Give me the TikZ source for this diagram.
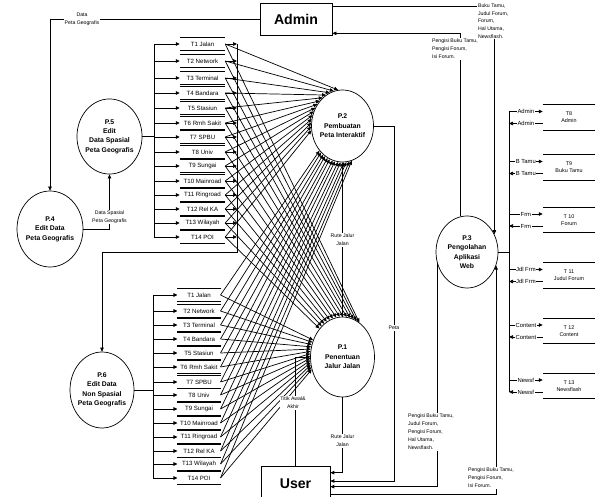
\documentclass[tikz,border=0pt]{standalone}
\usepackage{fontspec}
\setmainfont{Liberation Sans}
\usetikzlibrary{shapes.geometric,arrows.meta,calc}

\begin{document}
\begin{tikzpicture}[x=0.85pt,y=-0.85pt,line width=0.6pt,
    every node/.style={font=\fontsize{4.4}{6.8}\selectfont, inner sep=1pt},
    proc/.style={ellipse, draw, align=center, inner xsep=-4pt, inner ysep=0pt, font=\bfseries\fontsize{5.8}{8}\selectfont},
    ent/.style={draw, minimum width=61.2pt, minimum height=27.2pt, font=\bfseries\fontsize{12}{14}\selectfont},
    store/.style={minimum height=11pt, inner sep=0pt, font=\fontsize{5.2}{6}\selectfont},
    tabel/.style={minimum width=44pt, minimum height=21pt, inner sep=0pt, align=center, font=\fontsize{4.6}{6}\selectfont},
    lbl/.style={fill=white, align=center, inner sep=0.6pt},
    rowlbl/.style={fill=white, inner sep=0.4pt, font=\fontsize{5}{6}\selectfont},
    flow/.style={-{Triangle[length=3.4pt,width=3pt]}}]
    \useasboundingbox (0,0) rectangle (595,497);

    \node (admin)[ent] at (296,19) {Admin};
    \node (user)[ent, minimum width=58.6pt, minimum height=30.6pt] at (295.5,484) {User};

    \node (P1)[proc, minimum width=54.4pt, minimum height=68pt]   at (342.5,357) {P.1\\Penentuan\\Jalur Jalan};
    \node (P2)[proc, minimum width=52.7pt, minimum height=61.2pt] at (342.5,126) {P.2\\Pembuatan\\Peta Interaktif};
    \node (P3)[proc, minimum width=52.7pt, minimum height=61.2pt] at (467,252)   {P.3\\Pengolahan\\Aplikasi\\Web};
    \node (P4)[proc, minimum width=56.1pt, minimum height=64.6pt] at (50,229)    {P.4\\Edit Data\\Peta Geografis};
    \node (P5)[proc, minimum width=55.3pt, minimum height=63.8pt] at (109.5,136.5) {P.5\\Edit\\Data Spasial\\Peta Geografis};
    \node (P6)[proc, minimum width=54.4pt, minimum height=64.6pt] at (102,390)   {P.6\\Edit Data\\Non Spasial\\Peta Geografis};

    \coordinate (lbus) at (154,136.5);
    \coordinate (sbus) at (237,252);
    \coordinate (nbus) at (153,390);
    \coordinate (wbus) at (509,252);

    \foreach \i/\nm/\ya/\yb in
      {1/Jalan/44/295, 2/Network/61/311, 3/Terminal/78/325, 4/Bandara/93/339,
       5/Stasiun/108/353, 6/Rmh Sakit/123/367, 7/SPBU/137/382, 8/Univ/152/395,
       9/Sungai/166/409, 10/Mainroad/181/423, 11/Ringroad/195/437, 12/Rel KA/209/451,
       13/Wilayah/223/464, 14/POI/237/478}
    {
      \node (S\i)[store, minimum width=38pt] at (202.5,\ya) {T\i\ \nm};
      \node (N\i)[store, minimum width=36pt] at (199,\yb) {T\i\ \nm};
      \draw (S\i.north west) -- (S\i.north east) (S\i.south west) -- (S\i.south east);
      \draw (N\i.north west) -- (N\i.north east) (N\i.south west) -- (N\i.south east);
      \draw[flow] (lbus |- S\i) -- (S\i.west);
      \draw[flow] (nbus |- N\i) -- (N\i.west);
      \draw[flow] (S\i.east) -- (sbus |- S\i);
    }

    \draw (lbus |- S1) -- (lbus |- S14);
    \draw (nbus |- N1) -- (nbus |- N14);
    \draw (P5.east) -- (lbus);
    \draw (P6.east) -- (nbus);
    \draw[flow] (sbus |- S1) -- (sbus) -| (P6.north);

    \foreach \i in {1,...,14} {
      \pgfmathtruncatemacro\aUp{97+(\i-1)*7}
      \pgfmathtruncatemacro\aUq{64+(\i-1)*5}
      \pgfmathtruncatemacro\aLp{227+(\i-1)*4.5}
      \pgfmathtruncatemacro\aLq{150+(\i-1)*4}
      \draw[flow] (S\i.east) -- (P2.\aUp);
      \draw[flow] (S\i.east) -- (P1.\aUq);
      \draw[flow] (N\i.east) -- (P2.\aLp);
      \draw[flow] (N\i.east) -- (P1.\aLq);
    }

    \foreach \n/\y/\nama/\row in
      {8/117.5/{T8\\Admin}/Admin, 9/167.5/{T9\\Buku Tamu}/B Tamu,
       10/220/{T 10\\Forum}/Frm, 11/275.5/{T 11\\Judul Forum}/Jdl Frm,
       12/331/{T 12\\Content}/Content, 13/386/{T 13\\Newsflash}/Newsf}
    {
      \node (T\n)[tabel] at (569,\y) {\nama};
      \draw (T\n.north west) -- (T\n.north east) (T\n.south west) -- (T\n.south east);
      \coordinate (i\n) at ($(T\n.west)+(0,-6)$);
      \coordinate (o\n) at ($(T\n.west)+(0,6)$);
      \draw[flow] (wbus |- i\n) -- node[rowlbl]{\row} (i\n);
      \draw[flow] (o\n) -- node[rowlbl]{\row} (wbus |- o\n);
    }
    \draw (wbus |- i8) -- (wbus |- o13);
    \draw (P3.east) -- (wbus);

    \draw[flow] (admin.west) -| (P4.north);
    \node (l1)[lbl] at (82,19.5) {Data\\Peta Geografis};

    \draw[flow] (P4.east) -| (P5.south);
    \node (l2)[lbl] at (109.5,217) {Data Spasial\\Peta Geografis};

    \coordinate (a1) at ($(admin.north east)+(0,4)$);
    \draw[flow] (a1) -| (P3.33);
    \node (l3)[lbl, align=left, anchor=west, font=\fontsize{4.4}{6.5}\selectfont] at (477,21) {Buku Tamu,\\Judul Forum,\\Forum,\\Hal Utama,\\Newsflash.};

    \draw[flow] (P3.100) |- ($(admin.south east)+(0,-2)$);
    \node (l4)[lbl, align=left, anchor=west] at (431,49) {Pengisi Buku Tamu,\\Pengisi Forum,\\Isi Forum.};

    \coordinate (peta) at (394,481);
    \draw[flow] (P2.east) -| (peta) -- (peta -| user.east);
    \node (l5)[lbl] at (394,328) {Peta};

    \draw[flow] (P1.north) -- (P2.south);
    \node (l6)[lbl] at (342.5,240) {Rute Jalur\\Jalan};

    \coordinate (u1) at ($(user.north east)+(0,7)$);
    \draw[flow] (P1.south) |- (u1);
    \node (l7)[lbl] at (342.5,441) {Rute Jalur\\Jalan};

    \draw[flow] (user.north) |- (P1.west);
    \node (l8)[lbl] at (293,403) {Titik Awal\&\\Akhir};

    \coordinate (u3) at ($(user.north east)+(0,21)$);
    \draw[flow] (P3.200) |- (u3);
    \node (l9)[lbl, align=left, anchor=west] at (407,432) {Pengisi Buku Tamu,\\Judul Forum,\\Pengisi Forum,\\Hal Utama,\\Newsflash.};

    \coordinate (u4) at ($(user.north east)+(0,29)$);
    \draw[flow] (u4) -| (P3.335);
    \node (l10)[lbl, align=left, anchor=west] at (467,478) {Pengisi Buku Tamu,\\Pengisi Forum,\\Isi Forum.};
  \end{tikzpicture}
\end{document}
